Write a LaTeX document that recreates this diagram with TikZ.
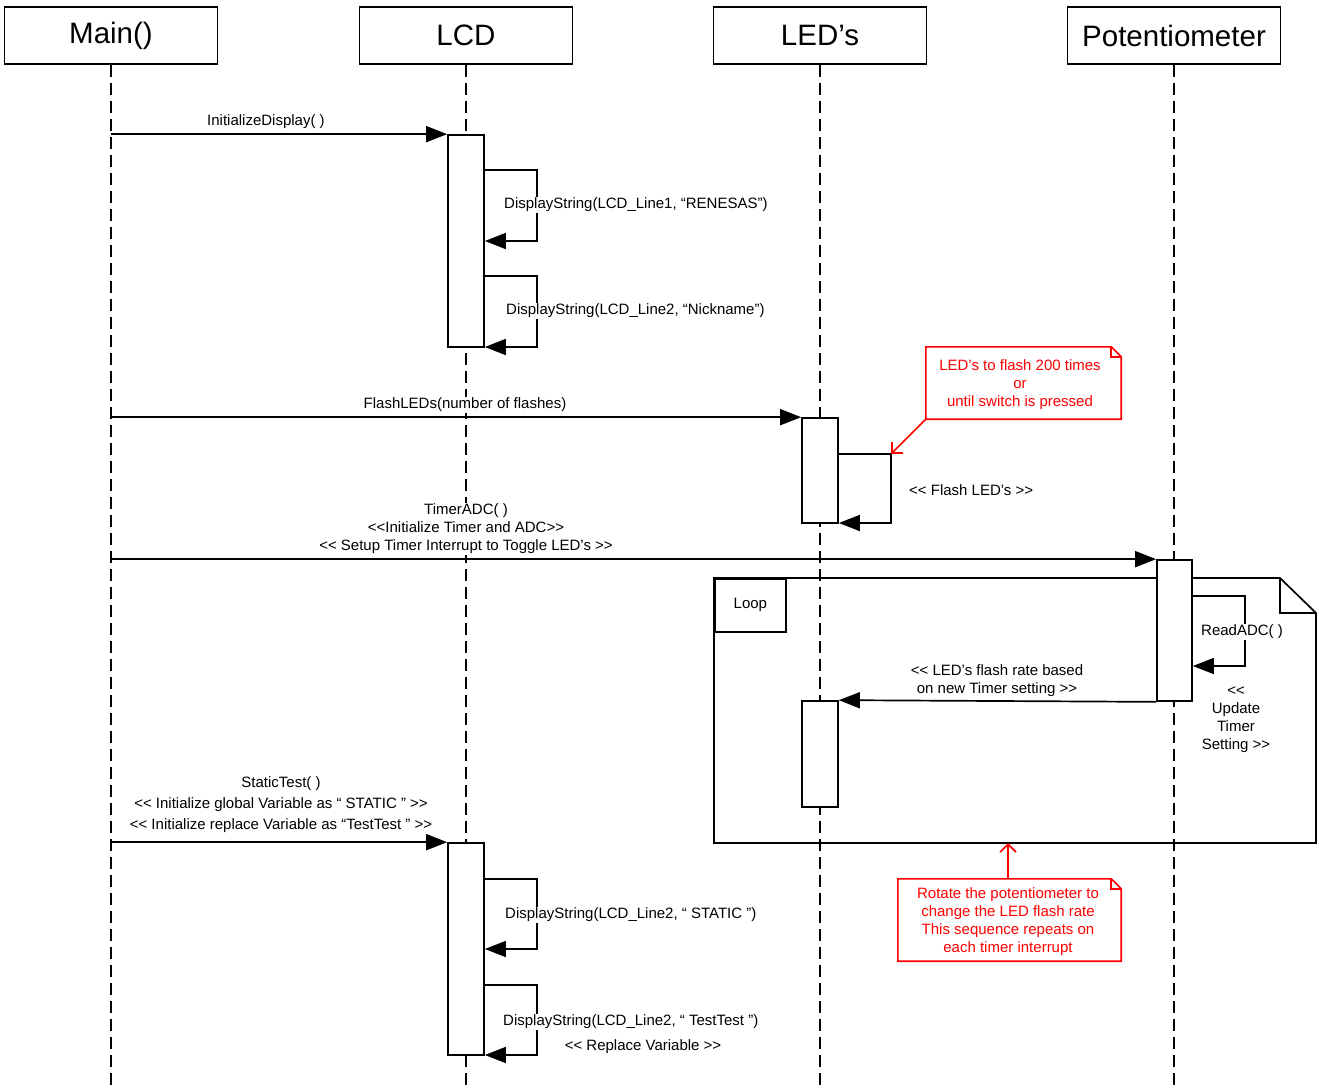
\documentclass[tikz,border=0pt]{standalone}
\usepackage{fontspec}
\setmainfont{Liberation Sans}
\usetikzlibrary{arrows.meta}
\newcommand{\ltlt}{<{}<}
\newcommand{\gtgt}{>{}>}
\begin{document}
\begin{tikzpicture}[x=1pt,y=-1pt,
  every node/.style={font=\fontsize{15}{18}\selectfont},
  head/.style={draw, line width=1.9pt, minimum width=213pt, minimum height=57pt, inner sep=0pt, font=\fontsize{29.5}{34}\selectfont},
  lifeline/.style={line width=1.7pt, dash pattern=on 12pt off 6pt},
  act/.style={draw, fill=white, line width=1.7pt, minimum width=36pt, inner sep=0pt},
  msg/.style={line width=1.7pt, -{Triangle[length=21pt,width=16pt]}},
  lbl/.style={fill=white, inner sep=1pt, align=center, yshift=-2pt},
  notebox/.style={red, line width=1.6pt},
  notetxt/.style={text=red, align=center, inner sep=0pt},
  notearrow/.style={red, line width=1.6pt, -{Straight Barb[width=16pt,length=8pt]}}
]
\useasboundingbox[fill=white] (0,0) rectangle (1319,1090);

% headers
\node[head] (h1) at (111,35.5) {Main()};
\node[head] (h2) at (466,35.5) {LCD};
\node[head] (h3) at (820,35.5) {LED’s};
\node[head] (h4) at (1174,35.5) {Potentiometer};

% lifelines
\coordinate (e1) at (111,1090);
\coordinate (e2) at (466,1090);
\coordinate (e3) at (820,1090);
\coordinate (e4) at (1174,1090);
\draw[lifeline] (h1.south) -- (e1);
\draw[lifeline] (h2.south) -- (e2);
\draw[lifeline] (h3.south) -- (e3);
\draw[lifeline] (h4.south) -- (e4);

% loop frame
\draw[line width=1.7pt] (714,578) -- (1280,578) -- (1316,613) -- (1316,843) -- (714,843) -- cycle;
\draw[line width=1.7pt] (1280,578) -- (1280,613) -- (1316,613);
\node[draw, line width=1.7pt, inner sep=0pt, minimum width=71pt, minimum height=53pt, anchor=north west] (loop) at (714,578) {Loop};

% activation boxes
\node[act, minimum height=212pt] (a1) at (466,241) {};
\node[act, minimum height=105pt] (a2) at (820,470.5) {};
\node[act, minimum width=35pt, minimum height=141pt] (a3) at (1174.5,630.5) {};
\node[act, minimum height=106pt] (a4) at (820,754) {};
\node[act, minimum height=212pt] (a5) at (466,949) {};

% messages
\draw[msg] (h1.south |- a1.north) -- (a1.north west);
\draw[msg] (h1.south |- a2.north) -- (a2.north west);
\draw[msg] (h1.south |- a3.north) -- (a3.north west);
\draw[msg] (h1.south |- a5.north) -- (a5.north west);
\draw[msg] (a3.south west) -- (a4.north east);

% self calls
\draw[msg] (a1.east |- 0,170) -| (537,241) -- (a1.east |- 0,241);
\draw[msg] (a1.east |- 0,276) -| (537,347) -- (a1.east |- 0,347);
\coordinate (c1) at (891,454);
\draw[msg] (a2.east |- c1) -| (891,523) -- (a2.east |- 0,523);
\draw[msg] (a3.east |- 0,596) -| (1245,666) -- (a3.east |- 0,666);
\draw[msg] (a5.east |- 0,879) -| (537,949) -- (a5.east |- 0,949);
\draw[msg] (a5.east |- 0,985) -| (537,1055) -- (a5.east |- 0,1055);

% labels
\node[lbl] (l1) at (266,120) {InitializeDisplay( )};
\node[lbl, anchor=west] (l2) at (503,203) {DisplayString(LCD\_Line1, “RENESAS”)};
\node[lbl, anchor=west] (l3) at (505,309) {DisplayString(LCD\_Line2, “Nickname”)};
\node[lbl] (l4) at (465,403) {FlashLEDs(number of flashes)};
\node[lbl, anchor=west] (l5) at (908,488) {\ltlt{} Flash LED’s \gtgt};
\node[lbl] (l6) at (466,527) {TimerADC( )\\\ltlt Initialize Timer and ADC\gtgt\\\ltlt{} Setup Timer Interrupt to Toggle LED’s \gtgt};
\node[lbl] (l7) at (1242,630) {ReadADC( )};
\node[lbl] (l8) at (997,679) {\ltlt{} LED’s flash rate based\\on new Timer setting \gtgt};
\node[lbl] (l9) at (1236,718) {\ltlt\\Update\\Timer\\Setting \gtgt};
\node[lbl, font=\fontsize{15}{21}\selectfont] (l10) at (281,803) {StaticTest( )\\\ltlt{} Initialize global Variable as “ STATIC ” \gtgt\\\ltlt{} Initialize replace Variable as “TestTest ” \gtgt};
\node[lbl, anchor=west] (l11) at (504,913) {DisplayString(LCD\_Line2, “ STATIC ”)};
\node[lbl, anchor=west] (l12) at (502,1020) {DisplayString(LCD\_Line2, “ TestTest ”)};
\node[lbl] (l13) at (643,1045) {\ltlt{} Replace Variable \gtgt};

% note 1
\node[minimum width=195pt, minimum height=72pt, inner sep=0pt] (n1) at (1023.5,383) {};
\node[notetxt] (n1t) at (1020,385) {LED’s to flash 200 times\\or\\until switch is pressed};
\draw[notebox] (n1.north west) -- ([xshift=-10pt]n1.north east) -- ([yshift=-10pt]n1.north east) -- (n1.south east) -- (n1.south west) -- cycle;
\draw[notebox] ([xshift=-10pt]n1.north east) |- ([yshift=-10pt]n1.north east);
\draw[notearrow] (n1.south west) -- (c1);

% note 2
\node[minimum width=223pt, minimum height=82pt, inner sep=0pt] (n2) at (1009.5,920) {};
\node[notetxt] (n2t) at (1008,922) {Rotate the potentiometer to\\change the LED flash rate\\This sequence repeats on\\each timer interrupt};
\draw[notebox] (n2.north west) -- ([xshift=-10pt]n2.north east) -- ([yshift=-10pt]n2.north east) -- (n2.south east) -- (n2.south west) -- cycle;
\draw[notebox] ([xshift=-10pt]n2.north east) |- ([yshift=-10pt]n2.north east);
\coordinate (c2) at (1008,843);
\draw[notearrow] (n2.north -| c2) -- (c2);
\end{tikzpicture}
\end{document}
